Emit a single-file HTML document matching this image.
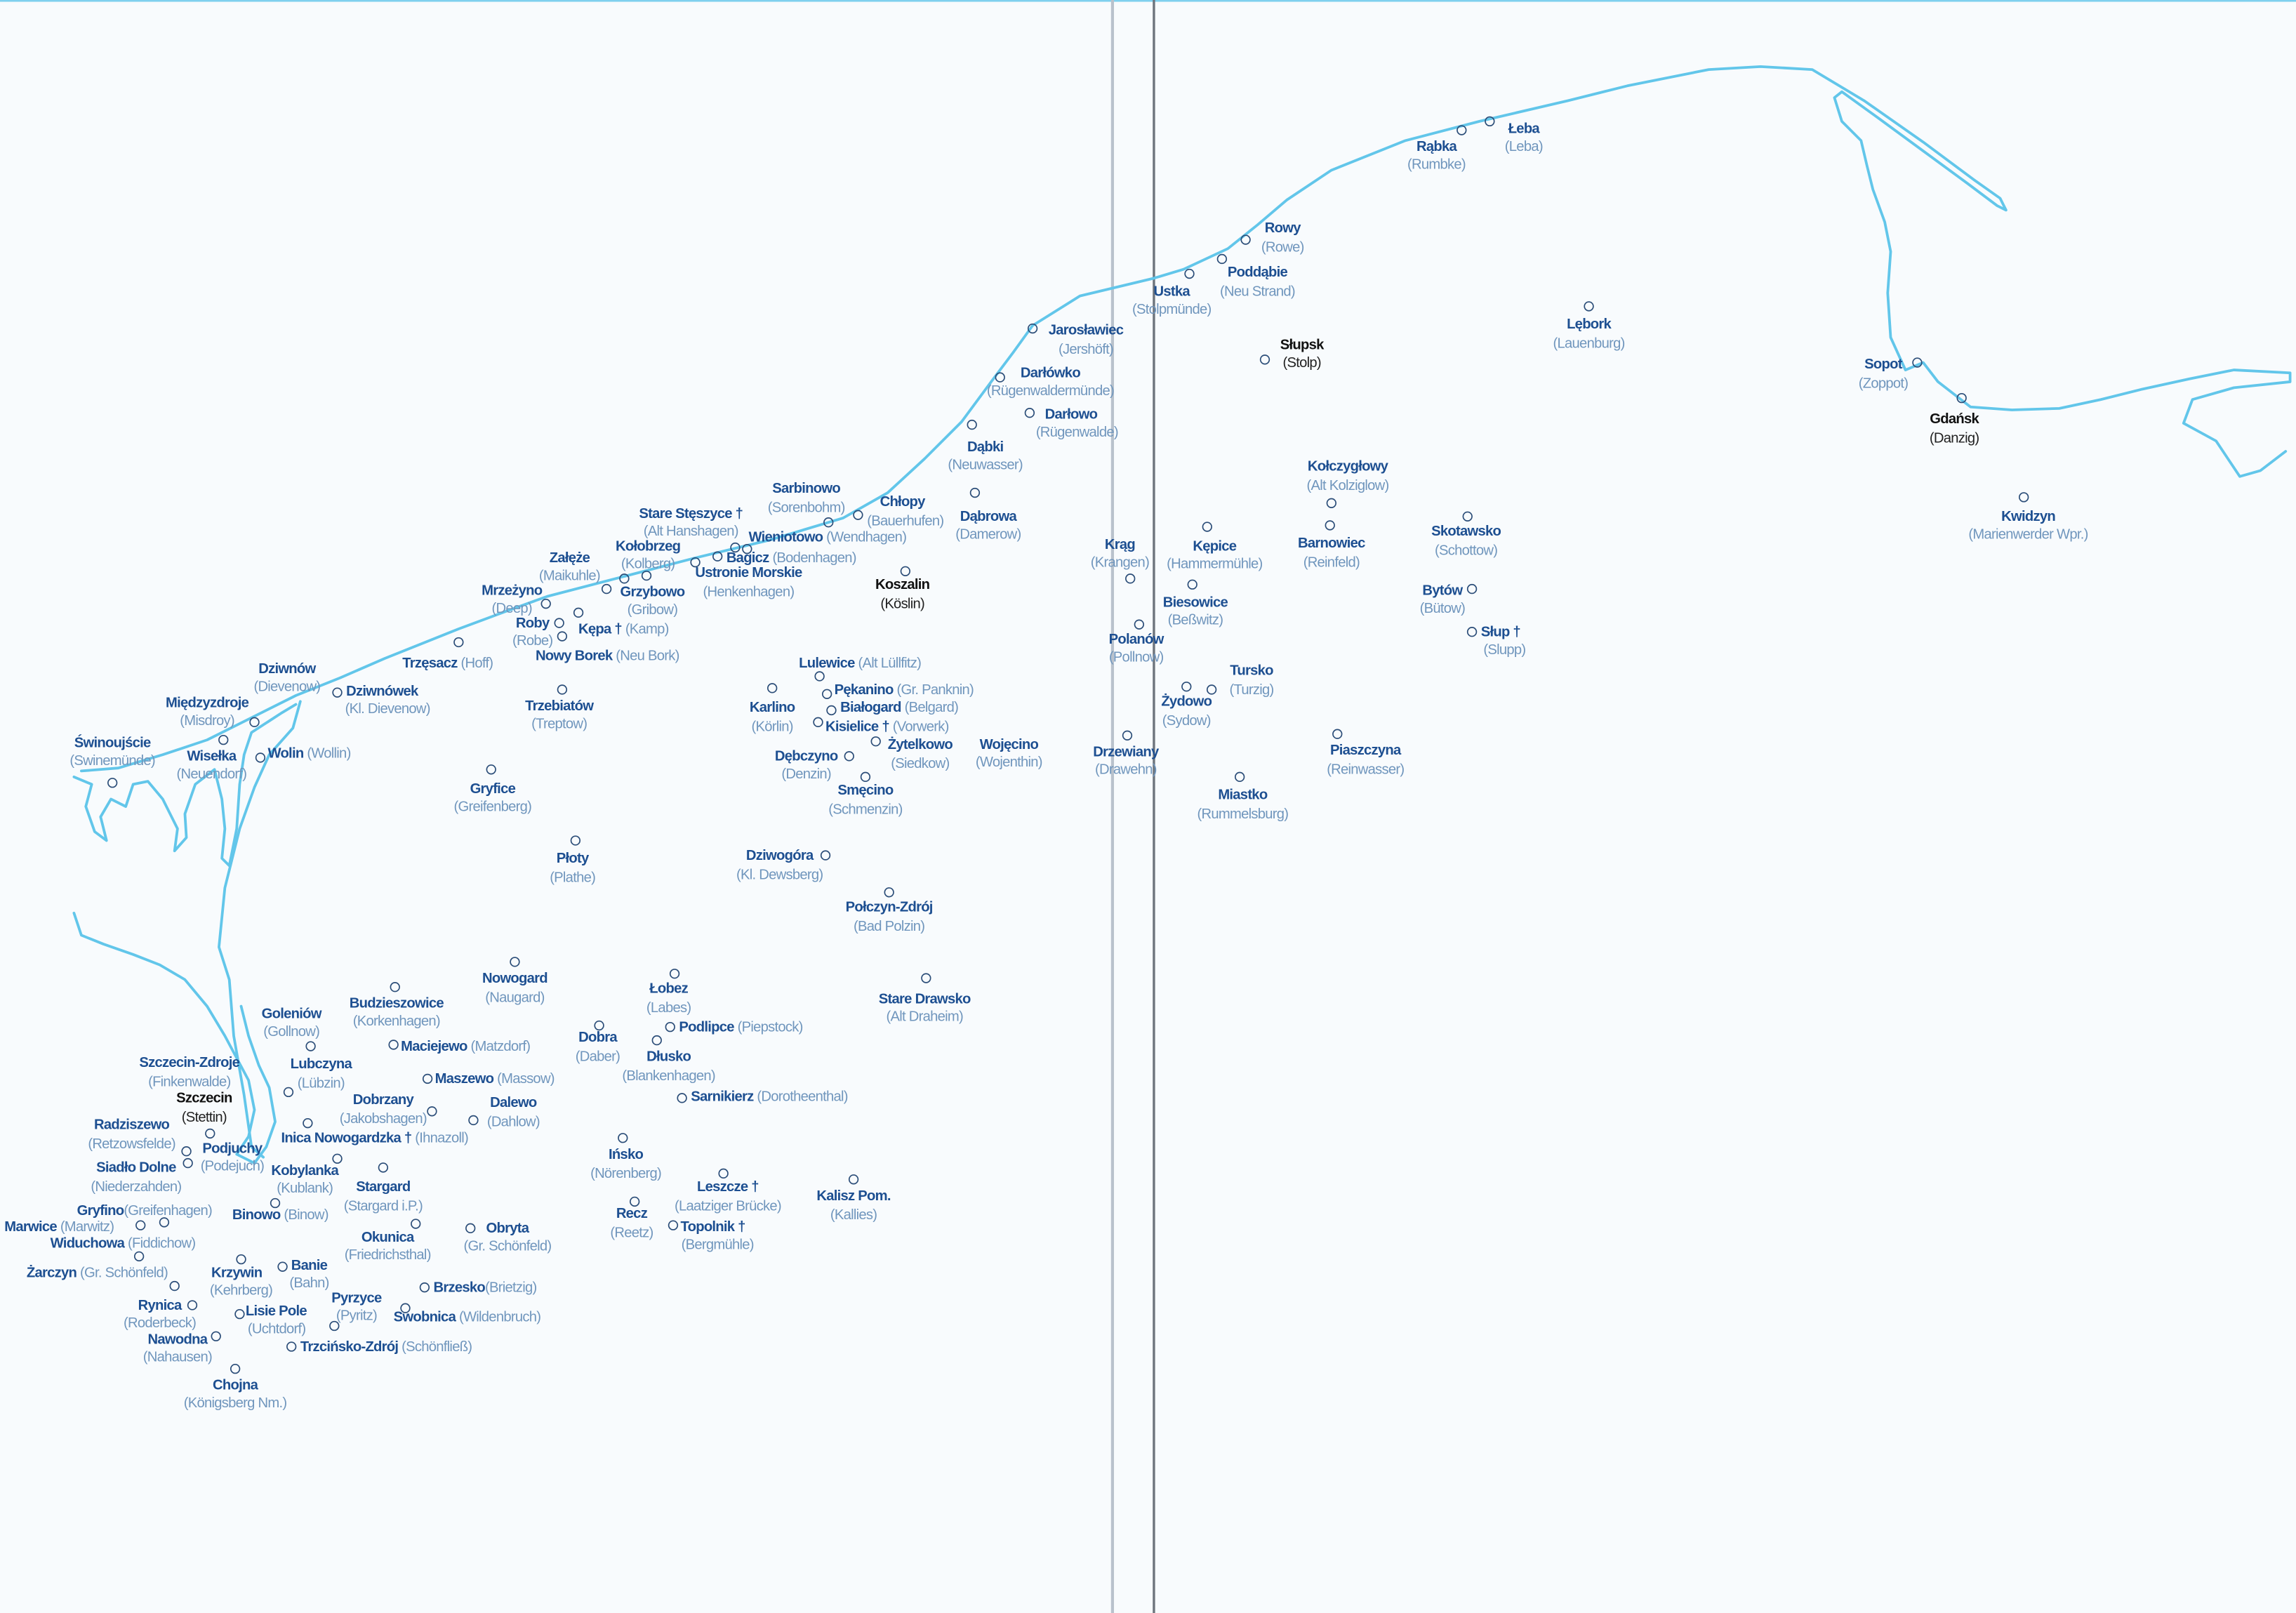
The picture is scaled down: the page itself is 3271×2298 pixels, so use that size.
<!DOCTYPE html>
<html><head><meta charset="utf-8"><style>
html,body{margin:0;padding:0;background:#f8fbfd;}
svg{display:block}
text{font-family:"Liberation Sans",sans-serif;font-size:9.6px;letter-spacing:-0.35px}
.n{fill:#1d4f91;font-weight:bold}
.k{fill:#111;font-weight:bold}
.kg{fill:#222}
.g{fill:#7096bd;font-weight:normal}
.m{text-anchor:middle}
circle{fill:none;stroke:#2b4d78;stroke-width:0.8}
.c{fill:none;stroke:#62c6ea;stroke-width:1.8;stroke-linejoin:round;stroke-linecap:round}
</style></head><body>
<svg width="3271" height="2298" viewBox="0 0 1552 1090" preserveAspectRatio="none">
<rect x="0" y="0" width="1552" height="1090" fill="#f8fbfd"/>
<rect x="0" y="0" width="1552" height="1.2" fill="#7fd0ee"/>
<line x1="752" y1="0" x2="752" y2="1090" stroke="#b9c2cc" stroke-width="2"/>
<line x1="780" y1="0" x2="780" y2="1090" stroke="#6d747c" stroke-width="1.6"/>
<!-- coast -->
<polyline class="c" points="55,521 80,519 110,510 140,500 160,490 180,480 200,470 230,458 260,445 310,425 345,412 370,403 420,390 470,377 520,365 570,350 600,333 625,310 650,285 670,258 685,238 698,220 730,200 780,188 800,182 830,168 850,152 870,135 900,115 950,95 1000,82 1060,68 1100,58 1155,47 1190,45 1225,47 1260,68 1300,96 1335,122 1352,134 1356,142 1350,139 1330,124 1300,102 1270,80 1245,62 1240,66 1245,82 1258,95 1262,112 1266,128 1274,150 1278,170 1276,198 1278,228 1288,250 1300,245 1310,258 1332,275 1360,277 1392,276 1420,270 1448,263 1480,256 1510,250 1548,252 1548,258 1510,262 1482,270 1476,286 1498,298 1514,322 1528,318 1545,305"/>
<polyline class="c" points="50,525 62,530 58,545 64,562 72,568 68,552 75,540 85,545 90,530 100,528 110,540 115,550 120,560 118,575 126,566 125,550 132,530 145,520 150,540 152,560 150,580 155,585 160,560 162,530 165,510 170,495 190,482 200,476"/>
<polyline class="c" points="203,474 198,492 182,510 172,532 162,560 152,600 148,640 155,662 158,700 165,740 170,775 178,782"/>
<polyline class="c" points="50,617 55,632 70,638 90,645 108,652 125,662 140,680 152,700 160,715 168,730 172,750 168,768 160,780 172,786 180,775 186,758 182,735 175,720 168,700 163,680"/>
<!-- places -->
<circle cx="1007" cy="82" r="3"/><text class="n m" x="1030" y="90">Łeba</text><text class="g m" x="1030" y="102">(Leba)</text>
<circle cx="988" cy="88" r="3"/><text class="n m" x="971" y="102">Rąbka</text><text class="g m" x="971" y="114">(Rumbke)</text>
<circle cx="842" cy="162" r="3"/><text class="n m" x="867" y="157">Rowy</text><text class="g m" x="867" y="170">(Rowe)</text>
<circle cx="826" cy="175" r="3"/><text class="n m" x="850" y="187">Poddąbie</text><text class="g m" x="850" y="200">(Neu Strand)</text>
<circle cx="804" cy="185" r="3"/><text class="n m" x="792" y="200">Ustka</text><text class="g m" x="792" y="212">(Stolpmünde)</text>
<circle cx="855" cy="243" r="3"/><text class="k m" x="880" y="236">Słupsk</text><text class="kg m" x="880" y="248">(Stolp)</text>
<circle cx="1074" cy="207" r="3"/><text class="n m" x="1074" y="222">Lębork</text><text class="g m" x="1074" y="235">(Lauenburg)</text>
<circle cx="1296" cy="245" r="3"/><text class="n m" x="1273" y="249">Sopot</text><text class="g m" x="1273" y="262">(Zoppot)</text>
<circle cx="1326" cy="269" r="3"/><text class="k m" x="1321" y="286">Gdańsk</text><text class="kg m" x="1321" y="299">(Danzig)</text>
<circle cx="1368" cy="336" r="3"/><text class="n m" x="1371" y="352">Kwidzyn</text><text class="g m" x="1371" y="364">(Marienwerder Wpr.)</text>
<circle cx="698" cy="222" r="3"/><text class="n m" x="734" y="226">Jarosławiec</text><text class="g m" x="734" y="239">(Jershöft)</text>
<circle cx="676" cy="255" r="3"/><text class="n m" x="710" y="255">Darłówko</text><text class="g m" x="710" y="267">(Rügenwaldermünde)</text>
<circle cx="696" cy="279" r="3"/><text class="n m" x="724" y="283">Darłowo</text><text class="g m" x="728" y="295">(Rügenwalde)</text>
<circle cx="657" cy="287" r="3"/><text class="n m" x="666" y="305">Dąbki</text><text class="g m" x="666" y="317">(Neuwasser)</text>
<circle cx="659" cy="333" r="3"/><text class="n m" x="668" y="352">Dąbrowa</text><text class="g m" x="668" y="364">(Damerow)</text>
<circle cx="580" cy="348" r="3"/><text class="n m" x="610" y="342">Chłopy</text><text class="g m" x="612" y="355">(Bauerhufen)</text>
<circle cx="560" cy="353" r="3"/><text class="n m" x="545" y="333">Sarbinowo</text><text class="g m" x="545" y="346">(Sorenbohm)</text>
<circle cx="497" cy="370" r="3"/><text class="n" x="506" y="366">Wieniotowo <tspan class="g">(Wendhagen)</tspan></text>
<text class="n m" x="467" y="350">Stare Stęszyce †</text><text class="g m" x="467" y="362">(Alt Hanshagen)</text>
<circle cx="470" cy="380" r="3"/><text class="n m" x="438" y="372">Kołobrzeg</text><text class="g m" x="438" y="384">(Kolberg)</text>
<circle cx="485" cy="376" r="3"/><circle cx="505" cy="371" r="3"/><text class="n" x="491" y="380">Bagicz <tspan class="g">(Bodenhagen)</tspan></text>
<text class="n m" x="506" y="390">Ustronie Morskie</text><text class="g m" x="506" y="403">(Henkenhagen)</text>
<circle cx="422" cy="391" r="3"/><circle cx="437" cy="389" r="3"/><text class="n m" x="385" y="380">Załęże</text><text class="g m" x="385" y="392">(Maikuhle)</text>
<circle cx="410" cy="398" r="3"/><text class="n m" x="441" y="403">Grzybowo</text><text class="g m" x="441" y="415">(Gribow)</text>
<circle cx="369" cy="408" r="3"/><text class="n m" x="346" y="402">Mrzeżyno</text><text class="g m" x="346" y="414">(Deep)</text>
<circle cx="378" cy="421" r="3"/><circle cx="380" cy="430" r="3"/><text class="n m" x="360" y="424">Roby</text><text class="g m" x="360" y="436">(Robe)</text>
<circle cx="391" cy="414" r="3"/><text class="n" x="391" y="428">Kępa † <tspan class="g">(Kamp)</tspan></text>
<text class="n" x="362" y="446">Nowy Borek <tspan class="g">(Neu Bork)</tspan></text>
<circle cx="310" cy="434" r="3"/><text class="n" x="272" y="451">Trzęsacz <tspan class="g">(Hoff)</tspan></text>
<text class="n m" x="194" y="455">Dziwnów</text><text class="g m" x="194" y="467">(Dievenow)</text>
<circle cx="228" cy="468" r="3"/><text class="n" x="234" y="470">Dziwnówek</text><text class="g m" x="262" y="482">(Kl. Dievenow)</text>
<circle cx="172" cy="488" r="3"/><text class="n m" x="140" y="478">Międzyzdroje</text><text class="g m" x="140" y="490">(Misdroy)</text>
<circle cx="76" cy="529" r="3"/><text class="n m" x="76" y="505">Świnoujście</text><text class="g m" x="76" y="517">(Swinemünde)</text>
<circle cx="151" cy="500" r="3"/><text class="n m" x="143" y="514">Wisełka</text><text class="g m" x="143" y="526">(Neuendorf)</text>
<circle cx="176" cy="512" r="3"/><text class="n" x="181" y="512">Wolin <tspan class="g">(Wollin)</tspan></text>
<circle cx="380" cy="466" r="3"/><text class="n m" x="378" y="480">Trzebiatów</text><text class="g m" x="378" y="492">(Treptow)</text>
<circle cx="332" cy="520" r="3"/><text class="n m" x="333" y="536">Gryfice</text><text class="g m" x="333" y="548">(Greifenberg)</text>
<circle cx="389" cy="568" r="3"/><text class="n m" x="387" y="583">Płoty</text><text class="g m" x="387" y="596">(Plathe)</text>
<circle cx="612" cy="386" r="3"/><text class="k m" x="610" y="398">Koszalin</text><text class="kg m" x="610" y="411">(Köslin)</text>
<circle cx="554" cy="457" r="3"/><text class="n" x="540" y="451">Lulewice <tspan class="g">(Alt Lüllfitz)</tspan></text>
<circle cx="522" cy="465" r="3"/><text class="n m" x="522" y="481">Karlino</text><text class="g m" x="522" y="494">(Körlin)</text>
<circle cx="559" cy="469" r="3"/><text class="n" x="564" y="469">Pękanino <tspan class="g">(Gr. Panknin)</tspan></text>
<circle cx="562" cy="480" r="3"/><text class="n" x="568" y="481">Białogard <tspan class="g">(Belgard)</tspan></text>
<circle cx="553" cy="488" r="3"/><text class="n" x="558" y="494">Kisielice † <tspan class="g">(Vorwerk)</tspan></text>
<circle cx="592" cy="501" r="3"/><text class="n m" x="622" y="506">Żytelkowo</text><text class="g m" x="622" y="519">(Siedkow)</text>
<text class="n m" x="682" y="506">Wojęcino</text><text class="g m" x="682" y="518">(Wojenthin)</text>
<circle cx="574" cy="511" r="3"/><text class="n m" x="545" y="514">Dębczyno</text><text class="g m" x="545" y="526">(Denzin)</text>
<circle cx="585" cy="525" r="3"/><text class="n m" x="585" y="537">Smęcino</text><text class="g m" x="585" y="550">(Schmenzin)</text>
<circle cx="558" cy="578" r="3"/><text class="n m" x="527" y="581">Dziwogóra</text><text class="g m" x="527" y="594">(Kl. Dewsberg)</text>
<circle cx="601" cy="603" r="3"/><text class="n m" x="601" y="616">Połczyn-Zdrój</text><text class="g m" x="601" y="629">(Bad Polzin)</text>
<circle cx="626" cy="661" r="3"/><text class="n m" x="625" y="678">Stare Drawsko</text><text class="g m" x="625" y="690">(Alt Draheim)</text>
<circle cx="764" cy="391" r="3"/><text class="n m" x="757" y="371">Krąg</text><text class="g m" x="757" y="383">(Krangen)</text>
<circle cx="816" cy="356" r="3"/><text class="n m" x="821" y="372">Kępice</text><text class="g m" x="821" y="384">(Hammermühle)</text>
<circle cx="900" cy="340" r="3"/><text class="n m" x="911" y="318">Kołczygłowy</text><text class="g m" x="911" y="331">(Alt Kolziglow)</text>
<circle cx="899" cy="355" r="3"/><text class="n m" x="900" y="370">Barnowiec</text><text class="g m" x="900" y="383">(Reinfeld)</text>
<circle cx="992" cy="349" r="3"/><text class="n m" x="991" y="362">Skotawsko</text><text class="g m" x="991" y="375">(Schottow)</text>
<circle cx="995" cy="398" r="3"/><text class="n m" x="975" y="402">Bytów</text><text class="g m" x="975" y="414">(Bütow)</text>
<circle cx="995" cy="427" r="3"/><text class="n" x="1001" y="430">Słup †</text><text class="g m" x="1017" y="442">(Slupp)</text>
<circle cx="806" cy="395" r="3"/><text class="n m" x="808" y="410">Biesowice</text><text class="g m" x="808" y="422">(Beßwitz)</text>
<circle cx="770" cy="422" r="3"/><text class="n m" x="768" y="435">Polanów</text><text class="g m" x="768" y="447">(Pollnow)</text>
<circle cx="819" cy="466" r="3"/><text class="n m" x="846" y="456">Tursko</text><text class="g m" x="846" y="469">(Turzig)</text>
<circle cx="802" cy="464" r="3"/><text class="n m" x="802" y="477">Żydowo</text><text class="g m" x="802" y="490">(Sydow)</text>
<circle cx="762" cy="497" r="3"/><text class="n m" x="761" y="511">Drzewiany</text><text class="g m" x="761" y="523">(Drawehn)</text>
<circle cx="904" cy="496" r="3"/><text class="n m" x="923" y="510">Piaszczyna</text><text class="g m" x="923" y="523">(Reinwasser)</text>
<circle cx="838" cy="525" r="3"/><text class="n m" x="840" y="540">Miastko</text><text class="g m" x="840" y="553">(Rummelsburg)</text>
<circle cx="348" cy="650" r="3"/><text class="n m" x="348" y="664">Nowogard</text><text class="g m" x="348" y="677">(Naugard)</text>
<circle cx="456" cy="658" r="3"/><text class="n m" x="452" y="671">Łobez</text><text class="g m" x="452" y="684">(Labes)</text>
<circle cx="267" cy="667" r="3"/><text class="n m" x="268" y="681">Budzieszowice</text><text class="g m" x="268" y="693">(Korkenhagen)</text>
<circle cx="210" cy="707" r="3"/><text class="n m" x="197" y="688">Goleniów</text><text class="g m" x="197" y="700">(Gollnow)</text>
<circle cx="405" cy="693" r="3"/><text class="n m" x="404" y="704">Dobra</text><text class="g m" x="404" y="717">(Daber)</text>
<circle cx="453" cy="694" r="3"/><text class="n" x="459" y="697">Podlipce <tspan class="g">(Piepstock)</tspan></text>
<circle cx="266" cy="706" r="3"/><text class="n" x="271" y="710">Maciejewo <tspan class="g">(Matzdorf)</tspan></text>
<circle cx="444" cy="703" r="3"/><text class="n m" x="452" y="717">Dłusko</text><text class="g m" x="452" y="730">(Blankenhagen)</text>
<circle cx="195" cy="738" r="3"/><text class="n m" x="217" y="722">Lubczyna</text><text class="g m" x="217" y="735">(Lübzin)</text>
<circle cx="289" cy="729" r="3"/><text class="n" x="294" y="732">Maszewo <tspan class="g">(Massow)</tspan></text>
<text class="n m" x="128" y="721">Szczecin-Zdroje</text><text class="g m" x="128" y="734">(Finkenwalde)</text>
<circle cx="142" cy="766" r="3"/><text class="k m" x="138" y="745">Szczecin</text><text class="kg m" x="138" y="758">(Stettin)</text>
<circle cx="292" cy="751" r="3"/><text class="n m" x="259" y="746">Dobrzany</text><text class="g m" x="259" y="759">(Jakobshagen)</text>
<circle cx="320" cy="757" r="3"/><text class="n m" x="347" y="748">Dalewo</text><text class="g m" x="347" y="761">(Dahlow)</text>
<circle cx="461" cy="742" r="3"/><text class="n" x="467" y="744">Sarnikierz <tspan class="g">(Dorotheenthal)</tspan></text>
<text class="n m" x="89" y="763">Radziszewo</text><text class="g m" x="89" y="776">(Retzowsfelde)</text>
<circle cx="208" cy="759" r="3"/><text class="n" x="190" y="772">Inica Nowogardzka † <tspan class="g">(Ihnazoll)</tspan></text>
<circle cx="126" cy="778" r="3"/><circle cx="127" cy="786" r="3"/><text class="n m" x="157" y="779">Podjuchy</text><text class="g m" x="157" y="791">(Podejuch)</text>
<circle cx="421" cy="769" r="3"/><text class="n m" x="423" y="783">Ińsko</text><text class="g m" x="423" y="796">(Nörenberg)</text>
<circle cx="228" cy="783" r="3"/><text class="n m" x="206" y="794">Kobylanka</text><text class="g m" x="206" y="806">(Kublank)</text>
<text class="n m" x="92" y="792">Siadło Dolne</text><text class="g m" x="92" y="805">(Niederzahden)</text>
<circle cx="259" cy="789" r="3"/><text class="n m" x="259" y="805">Stargard</text><text class="g m" x="259" y="818">(Stargard i.P.)</text>
<circle cx="489" cy="793" r="3"/><text class="n m" x="492" y="805">Leszcze †</text><text class="g m" x="492" y="818">(Laatziger Brücke)</text>
<circle cx="577" cy="797" r="3"/><text class="n m" x="577" y="811">Kalisz Pom.</text><text class="g m" x="577" y="824">(Kallies)</text>
<circle cx="429" cy="812" r="3"/><text class="n m" x="427" y="823">Recz</text><text class="g m" x="427" y="836">(Reetz)</text>
<text class="n" x="52" y="821">Gryfino<tspan class="g">(Greifenhagen)</tspan></text>
<circle cx="186" cy="813" r="3"/><text class="n" x="157" y="824">Binowo <tspan class="g">(Binow)</tspan></text>
<circle cx="95" cy="828" r="3"/><circle cx="111" cy="826" r="3"/><text class="n" x="3" y="832">Marwice <tspan class="g">(Marwitz)</tspan></text>
<circle cx="281" cy="827" r="3"/><text class="n m" x="262" y="839">Okunica</text><text class="g m" x="262" y="851">(Friedrichsthal)</text>
<circle cx="318" cy="830" r="3"/><text class="n m" x="343" y="833">Obryta</text><text class="g m" x="343" y="845">(Gr. Schönfeld)</text>
<circle cx="455" cy="828" r="3"/><text class="n" x="460" y="832">Topolnik †</text><text class="g m" x="485" y="844">(Bergmühle)</text>
<circle cx="94" cy="849" r="3"/><text class="n" x="34" y="843">Widuchowa <tspan class="g">(Fiddichow)</tspan></text>
<text class="n" x="18" y="863">Żarczyn <tspan class="g">(Gr. Schönfeld)</tspan></text>
<circle cx="163" cy="851" r="3"/><text class="n m" x="160" y="863">Krzywin</text><text class="g m" x="163" y="875">(Kehrberg)</text>
<circle cx="191" cy="856" r="3"/><text class="n m" x="209" y="858">Banie</text><text class="g m" x="209" y="870">(Bahn)</text>
<circle cx="287" cy="870" r="3"/><text class="n" x="293" y="873">Brzesko<tspan class="g">(Brietzig)</tspan></text>
<circle cx="118" cy="869" r="3"/><circle cx="130" cy="882" r="3"/><text class="n m" x="108" y="885">Rynica</text><text class="g m" x="108" y="897">(Roderbeck)</text>
<circle cx="274" cy="884" r="3"/><text class="n m" x="241" y="880">Pyrzyce</text><text class="g m" x="241" y="892">(Pyritz)</text>
<circle cx="162" cy="888" r="3"/><text class="n" x="166" y="889">Lisie Pole</text><text class="g m" x="187" y="901">(Uchtdorf)</text>
<text class="n" x="266" y="893">Swobnica <tspan class="g">(Wildenbruch)</tspan></text>
<circle cx="146" cy="903" r="3"/><text class="n m" x="120" y="908">Nawodna</text><text class="g m" x="120" y="920">(Nahausen)</text>
<circle cx="226" cy="896" r="3"/><circle cx="197" cy="910" r="3"/><text class="n" x="203" y="913">Trzcińsko-Zdrój <tspan class="g">(Schönfließ)</tspan></text>
<circle cx="159" cy="925" r="3"/><text class="n m" x="159" y="939">Chojna</text><text class="g m" x="159" y="951">(Königsberg Nm.)</text>
</svg>
</body></html>
